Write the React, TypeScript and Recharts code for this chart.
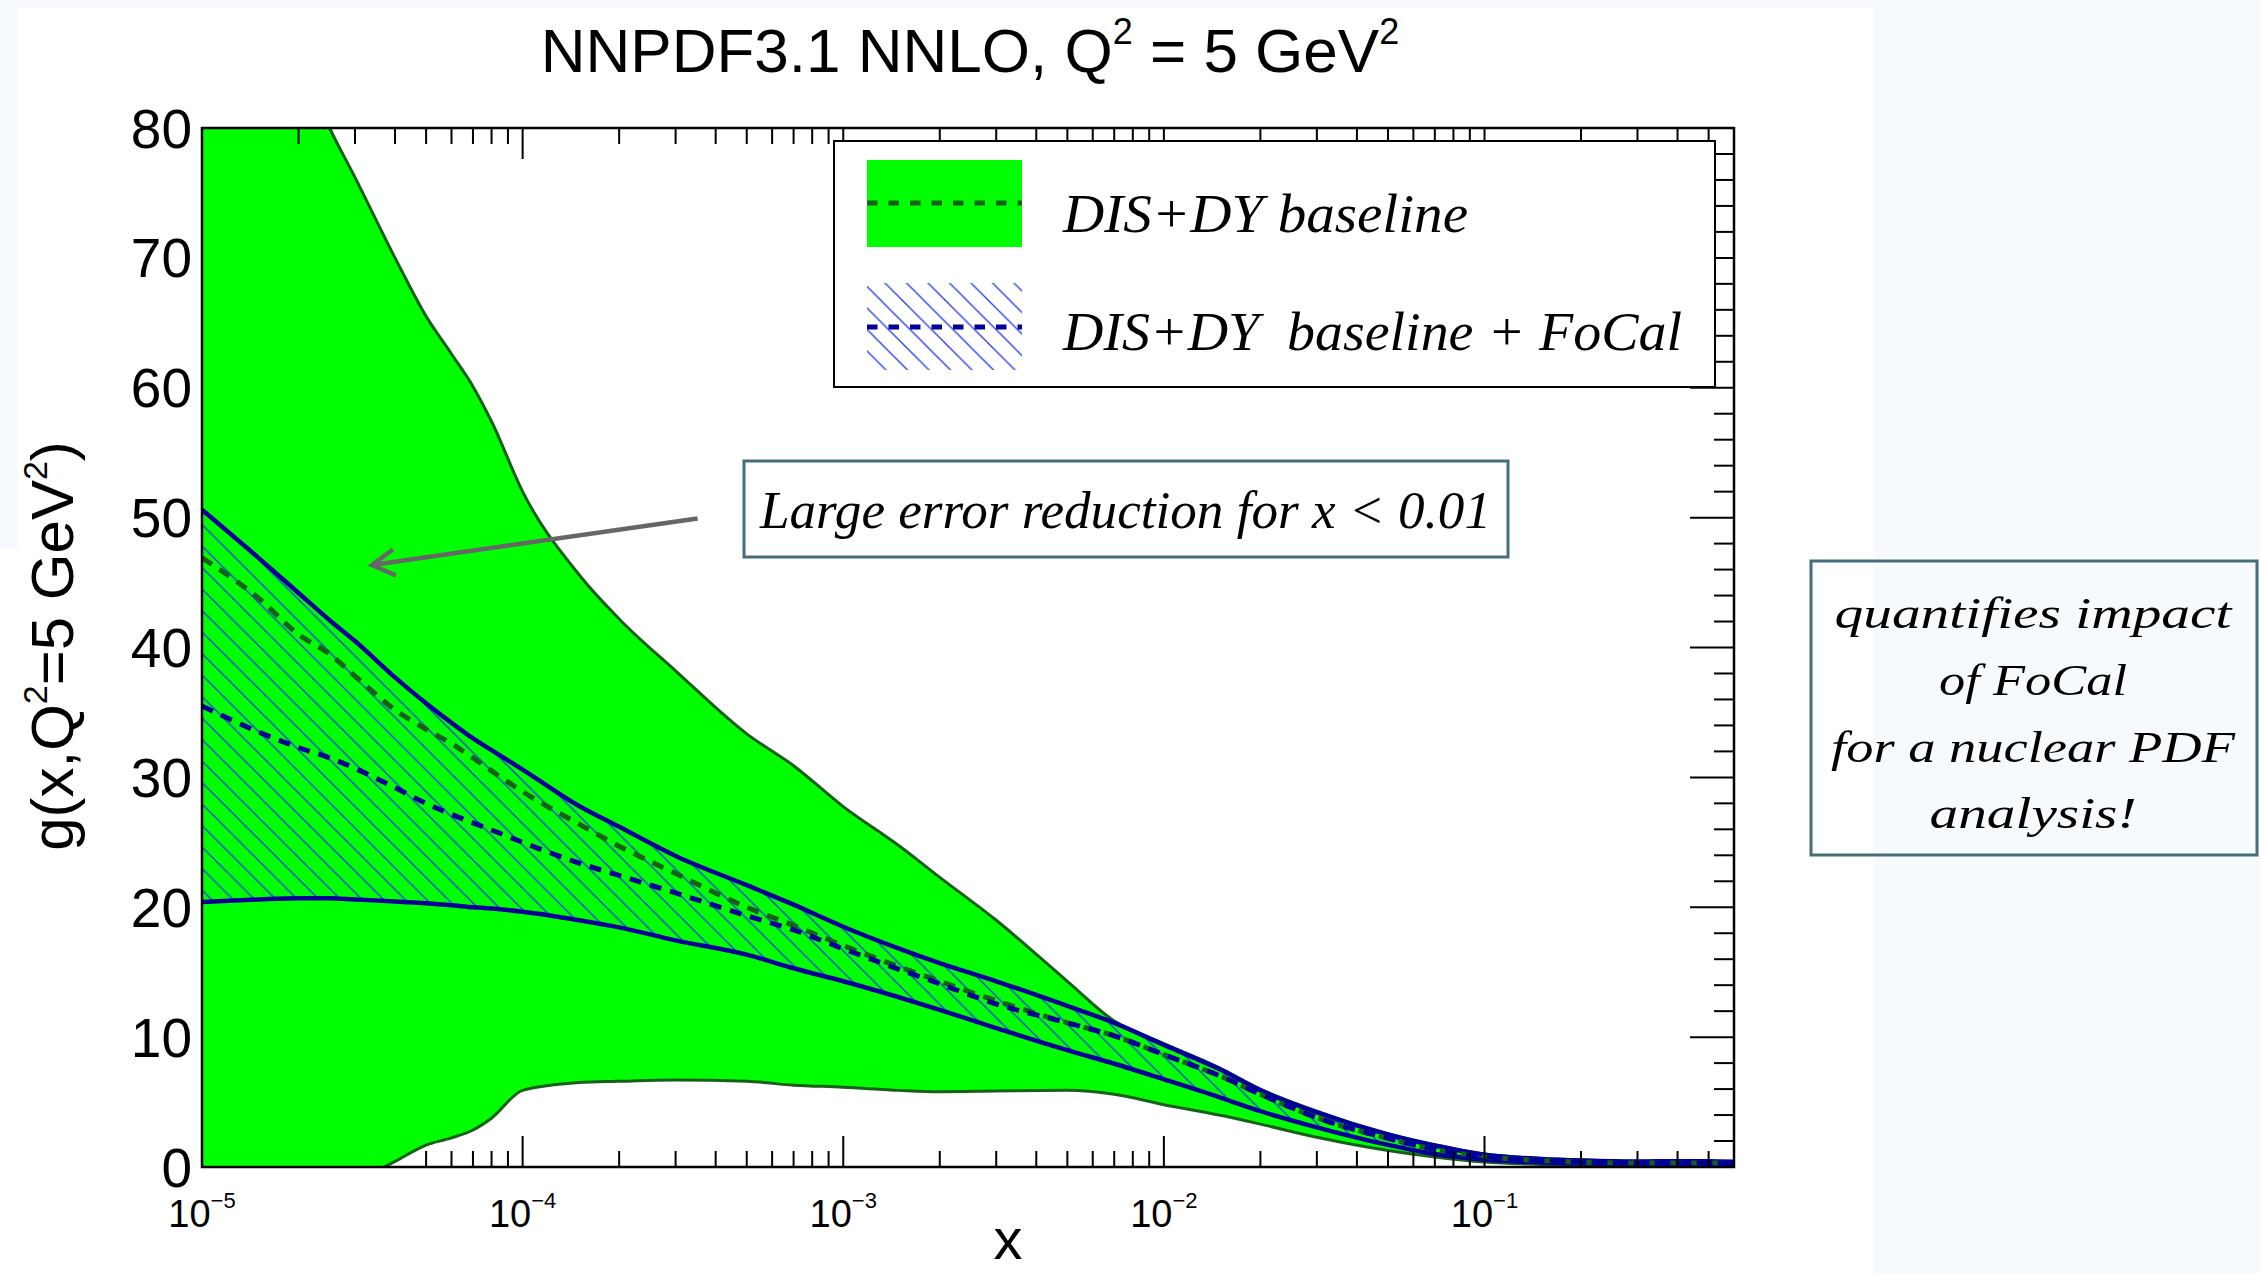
import React from 'react';
import { ComposedChart, Area, Line, XAxis, YAxis, ReferenceArea, Customized } from 'recharts';

// ---------------- data ----------------
const X_VALUES = [
  1e-5, 1.5e-5, 2e-5, 2.5e-5, 3e-5, 4e-5, 5e-5, 6e-5, 7e-5, 8e-5,
  1e-4, 1.5e-4, 2e-4, 3e-4, 5e-4, 7e-4, 1e-3, 1.5e-3, 2e-3, 3e-3,
  5e-3, 7e-3, 1e-2, 1.5e-2, 2e-2, 3e-2, 5e-2, 7e-2, 0.1, 0.15,
  0.2, 0.3, 0.4, 0.5, 0.6,
];
// DIS+DY baseline band (upper / lower edge) and central value
const BASE_HI = [
  100, 91, 85.5, 80, 76.2, 70.0, 65.5, 62.6, 60.1, 57.4,
  52.0, 45.6, 42.2, 38.2, 33.35, 30.9, 27.75, 24.7, 22.3, 19.0,
  14.3, 11.25, 9.5, 7.6, 6.0, 4.3, 2.55, 1.7, 1.0, 0.65,
  0.55, 0.45, 0.45, 0.45, 0.4,
];
const BASE_LO = [
  -7.4, -5.1, -3.5, -2.2, -1.2, 0.43, 1.69, 2.24, 2.85, 3.76,
  5.9, 6.5, 6.6, 6.7, 6.6, 6.3, 6.15, 5.9, 5.8, 5.85,
  5.9, 5.6, 4.8, 3.98, 3.3, 2.29, 1.27, 0.77, 0.38, 0.2,
  0.12, 0.08, 0.1, 0.1, 0.1,
];
const BASE_MID = [
  46.9, 43.8, 41.0, 39.5, 37.8, 35.2, 33.7, 32.6, 31.5, 30.5,
  28.9, 26.4, 24.7, 22.6, 20.0, 18.6, 17.05, 15.4, 14.3, 12.8,
  11.1, 10.1, 8.65, 7.0, 5.6, 3.8, 2.2, 1.35, 0.8, 0.5,
  0.38, 0.3, 0.3, 0.3, 0.3,
];
// DIS+DY baseline + FoCal band and central value
const FOCAL_HI = [
  50.6, 46.9, 44.2, 42.1, 40.5, 37.7, 35.7, 34.2, 33.0, 32.1,
  30.6, 27.8, 26.2, 23.95, 21.7, 20.2, 18.5, 16.8, 15.7, 14.3,
  12.4, 11.1, 9.4, 7.5, 5.9, 4.2, 2.5, 1.65, 0.95, 0.62,
  0.5, 0.42, 0.45, 0.45, 0.4,
];
const FOCAL_LO = [
  20.4, 20.6, 20.7, 20.7, 20.6, 20.45, 20.3, 20.15, 20.0, 19.9,
  19.65, 19.0, 18.45, 17.45, 16.35, 15.3, 14.3, 13.05, 12.1, 10.7,
  9.0, 7.95, 6.75, 5.35, 4.3, 3.05, 1.7, 1.0, 0.58, 0.35,
  0.28, 0.25, 0.25, 0.25, 0.25,
];
const FOCAL_MID = [
  35.5, 33.5, 32.3, 31.5, 30.7, 29.2, 28.0, 27.15, 26.5, 25.95,
  25.0, 23.4, 22.45, 21.1, 19.35, 18.25, 16.8, 15.2, 14.1, 12.55,
  11.1, 10.1, 8.65, 7.0, 5.6, 3.8, 2.2, 1.35, 0.8, 0.5,
  0.38, 0.3, 0.3, 0.3, 0.3,
];

// axes
const X_DOMAIN = [1e-5, 0.6];
const X_DECADES = [1e-5, 1e-4, 1e-3, 1e-2, 1e-1];
const X_TICKS = X_DECADES.flatMap((d) => [1, 2, 3, 4, 5, 6, 7, 8, 9].map((k) => k * d)).filter((v) => v < 0.6);
// bottom ticks between 1e-5 and 5e-5 are hidden under the green band in the original
const X_BOTTOM_TICKS = X_TICKS.filter((v) => v === 1e-5 || v > 4.5e-5);
const Y_DOMAIN = [0, 80];
const Y_LABEL_TICKS = [0, 10, 20, 30, 40, 50, 60, 70, 80];
const Y_RIGHT_TICKS = Array.from({ length: 41 }, (_, i) => i * 2);

const rows = X_VALUES.map((x, i) => ({
  x,
  base: [BASE_LO[i], BASE_HI[i]],
  focal: [FOCAL_LO[i], FOCAL_HI[i]],
  baseMid: BASE_MID[i],
  focalMid: FOCAL_MID[i],
}));

// ---------------- styles ----------------
const SANS = '"Liberation Sans", Arial, Helvetica, sans-serif';
const SERIF = '"Liberation Serif", "Times New Roman", serif';
const GREEN = '#00ff00';
const DARK_GREEN = '#17601a';
const NAVY = '#000099';
const HATCH_BLUE = '#2036f0';
const BOX_EDGE = '#466e78';

const isMajor = (v: number) => Math.abs(Math.log10(v) - Math.round(Math.log10(v))) < 1e-6;

function BottomTick(props: any) {
  const { x, y, payload } = props;
  const v = payload.value;
  const major = isMajor(v);
  const exp = Math.round(Math.log10(v));
  return (
    <g>
      <line x1={x} x2={x} y1={y} y2={y - (major ? 31 : 16)} stroke="#000" strokeWidth={2} />
      {major && (
        <text x={x} y={y + 59.7} textAnchor="middle" fontFamily={SANS} fontSize={38} fill="#000">
          10<tspan fontSize={22} dy={-19}>{'\u2212' + String(-exp)}</tspan>
        </text>
      )}
    </g>
  );
}

function TopTick(props: any) {
  const { x, y, payload } = props;
  const major = isMajor(payload.value);
  return <line x1={x} x2={x} y1={y} y2={y + (major ? 31 : 16)} stroke="#000" strokeWidth={2} />;
}

function LeftTick(props: any) {
  const { x, y, payload } = props;
  return (
    <text x={x - 10} y={y + 19.5} textAnchor="end" fontFamily={SANS} fontSize={55} fill="#000">
      {payload.value}
    </text>
  );
}

function RightTick(props: any) {
  const { x, y, payload } = props;
  const major = payload.value % 10 === 0;
  return <line x1={x} x2={x - (major ? 44 : 20)} y1={y} y2={y} stroke="#000" strokeWidth={2} />;
}

function HatchDefs({ id }: { id: string }) {
  return (
    <defs>
      <pattern id={id} patternUnits="userSpaceOnUse" width={21.5} height={21.5}>
        <path
          d="M0,0 L21.5,21.5 M-2,19.5 L2,23.5 M19.5,-2 L23.5,2"
          stroke={HATCH_BLUE}
          strokeWidth={1.3}
          fill="none"
        />
      </pattern>
    </defs>
  );
}

function ChartDefs() {
  return <HatchDefs id="hatchPlot" />;
}

function Overlay() {
  const italic = { fontFamily: SERIF, fontStyle: 'italic' as const, fill: '#000' };
  return (
    <svg
      width={2260}
      height={1273}
      style={{ position: 'absolute', left: 0, top: 0, pointerEvents: 'none', overflow: 'visible' }}
    >
      <HatchDefs id="hatchLegend" />

      {/* title */}
      <text x={970} y={71.7} textAnchor="middle" fontFamily={SANS} fontSize={62} fill="#000">
        NNPDF3.1 NNLO, Q<tspan fontSize={36} dy={-28}>2</tspan>
        <tspan dy={28}> = 5 GeV</tspan>
        <tspan fontSize={36} dy={-28}>2</tspan>
      </text>

      {/* y title */}
      <text
        transform="translate(73,646) rotate(-90)"
        textAnchor="middle"
        fontFamily={SANS}
        fontSize={60}
        fill="#000"
      >
        g(x,Q<tspan fontSize={34} dy={-26}>2</tspan>
        <tspan dy={26}>=5 GeV</tspan>
        <tspan fontSize={34} dy={-26}>2</tspan>
        <tspan dy={26}>)</tspan>
      </text>

      {/* x title */}
      <text x={1008} y={1259} textAnchor="middle" fontFamily={SANS} fontSize={58} fill="#000">
        x
      </text>

      {/* legend */}
      <rect x={834} y={141} width={881} height={246} fill="#fff" stroke="#000" strokeWidth={2} />
      <rect x={867} y={160} width={155} height={87} fill={GREEN} />
      <line x1={867} x2={1022} y1={203} y2={203} stroke={DARK_GREEN} strokeWidth={5} strokeDasharray="10.5 11" />
      <rect x={867} y={283} width={155} height={87} fill="url(#hatchLegend)" />
      <line x1={867} x2={1022} y1={327} y2={327} stroke={NAVY} strokeWidth={5} strokeDasharray="10.5 11" />
      <text x={1063} y={232} fontSize={54} textLength={405} lengthAdjust="spacingAndGlyphs" {...italic}>
        DIS+DY baseline
      </text>
      <text
        x={1063}
        y={350}
        fontSize={54}
        textLength={619}
        lengthAdjust="spacingAndGlyphs"
        style={{ whiteSpace: 'pre' }}
        {...italic}
      >
        {'DIS+DY  baseline + FoCal'}
      </text>

      {/* annotation with arrow */}
      <rect x={744} y={461} width={764} height={96} fill="#fff" stroke={BOX_EDGE} strokeWidth={3} />
      <text x={760} y={528} fontSize={53} textLength={731} lengthAdjust="spacingAndGlyphs" {...italic}>
        Large error reduction for x &lt; 0.01
      </text>
      <line x1={697.6} y1={518.4} x2={372} y2={565} stroke="#666666" strokeWidth={4.5} />
      <polyline points="393,549.5 372,565 396,575.5" fill="none" stroke="#666666" strokeWidth={4.5} />

      {/* side note */}
      <rect x={1811} y={561} width={446} height={294} fill="none" stroke={BOX_EDGE} strokeWidth={3} />
      <text x={2033} y={628} textAnchor="middle" fontSize={45} textLength={397} lengthAdjust="spacingAndGlyphs" {...italic}>
        quantifies impact
      </text>
      <text x={2033} y={695} textAnchor="middle" fontSize={45} textLength={188} lengthAdjust="spacingAndGlyphs" {...italic}>
        of FoCal
      </text>
      <text x={2033} y={762} textAnchor="middle" fontSize={45} textLength={404} lengthAdjust="spacingAndGlyphs" {...italic}>
        for a nuclear PDF
      </text>
      <text x={2033} y={828} textAnchor="middle" fontSize={45} textLength={207} lengthAdjust="spacingAndGlyphs" {...italic}>
        analysis!
      </text>
    </svg>
  );
}

export default function App() {
  return (
    <div style={{ position: 'absolute', left: 0, top: 0, width: 2260, height: 1273, background: '#f6fafd', overflow: 'hidden' }}>
      <div style={{ position: 'absolute', left: 18, top: 8, width: 1855, height: 1265, background: '#ffffff' }} />
      <div style={{ position: 'absolute', left: 0, top: 548, width: 18, height: 725, background: '#ffffff' }} />
      <div style={{ position: 'absolute', left: 0, top: 0 }}>
        <ComposedChart width={2260} height={1273} data={rows} margin={{ top: 118, right: 516, bottom: 46, left: 102 }}>
          <XAxis
            xAxisId="b"
            orientation="bottom"
            dataKey="x"
            type="number"
            scale="log"
            domain={X_DOMAIN}
            allowDataOverflow
            ticks={X_BOTTOM_TICKS}
            interval={0}
            tick={BottomTick}
            tickLine={false}
            axisLine={false}
            tickSize={0}
            tickMargin={0}
            height={60}
            zIndex={50}
          />
          <XAxis
            xAxisId="t"
            orientation="top"
            dataKey="x"
            type="number"
            scale="log"
            domain={X_DOMAIN}
            allowDataOverflow
            ticks={X_TICKS}
            interval={0}
            tick={TopTick}
            tickLine={false}
            axisLine={false}
            tickSize={0}
            tickMargin={0}
            height={10}
            zIndex={50}
          />
          <YAxis
            yAxisId="l"
            orientation="left"
            type="number"
            domain={Y_DOMAIN}
            allowDataOverflow
            ticks={Y_LABEL_TICKS}
            interval={0}
            tick={LeftTick}
            tickLine={false}
            axisLine={false}
            tickSize={0}
            tickMargin={0}
            width={100}
            zIndex={50}
          />
          <YAxis
            yAxisId="r"
            orientation="right"
            type="number"
            domain={Y_DOMAIN}
            allowDataOverflow
            ticks={Y_RIGHT_TICKS}
            interval={0}
            tick={RightTick}
            tickLine={false}
            axisLine={false}
            tickSize={0}
            tickMargin={0}
            width={10}
            zIndex={50}
          />
          <Customized component={ChartDefs} />
          <Area
            xAxisId="b"
            yAxisId="l"
            dataKey="base"
            type="monotone"
            fill={GREEN}
            fillOpacity={1}
            stroke={DARK_GREEN}
            strokeWidth={3}
            isAnimationActive={false}
            dot={false}
            activeDot={false}
            zIndex={200}
          />
          <Area
            xAxisId="b"
            yAxisId="l"
            dataKey="focal"
            type="monotone"
            fill="url(#hatchPlot)"
            fillOpacity={1}
            stroke={NAVY}
            strokeWidth={4.5}
            isAnimationActive={false}
            dot={false}
            activeDot={false}
            zIndex={210}
          />
          <Line
            xAxisId="b"
            yAxisId="l"
            dataKey="baseMid"
            type="monotone"
            stroke={DARK_GREEN}
            strokeWidth={5}
            strokeDasharray="12 9"
            dot={false}
            activeDot={false}
            isAnimationActive={false}
            zIndex={300}
          />
          <Line
            xAxisId="b"
            yAxisId="l"
            dataKey="focalMid"
            type="monotone"
            stroke={NAVY}
            strokeWidth={5}
            strokeDasharray="12 9"
            dot={false}
            activeDot={false}
            isAnimationActive={false}
            zIndex={310}
          />
          <ReferenceArea
            xAxisId="b"
            yAxisId="l"
            x1={X_DOMAIN[0]}
            x2={X_DOMAIN[1]}
            y1={Y_DOMAIN[0]}
            y2={Y_DOMAIN[1]}
            fill="none"
            fillOpacity={0}
            stroke="#000"
            strokeWidth={2.5}
            ifOverflow="visible"
            zIndex={1500}
          />
        </ComposedChart>
      </div>
      <Overlay />
    </div>
  );
}
